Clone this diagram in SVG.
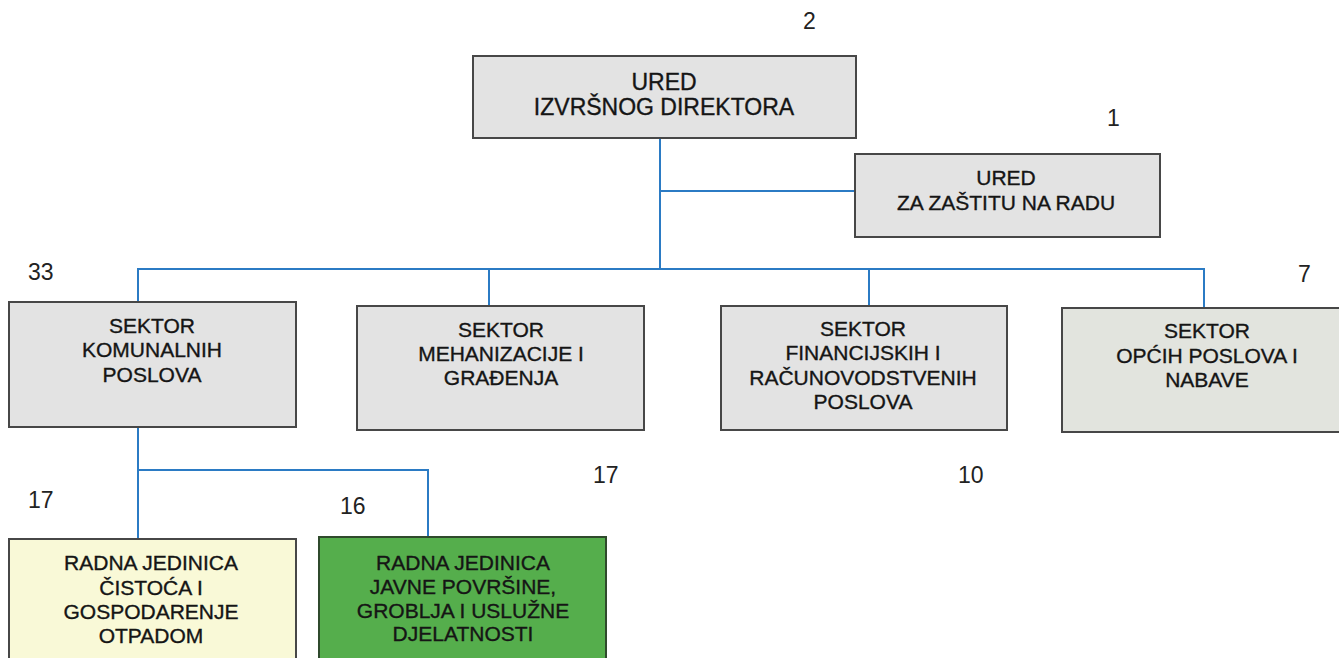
<svg xmlns="http://www.w3.org/2000/svg" width="1339" height="658" viewBox="0 0 1339 658">
<style>
.box{fill:#e3e3e3;stroke:#474747;stroke-width:2}
.t{font-family:"Liberation Sans",Arial,sans-serif;font-size:21px;fill:#151515;stroke:#151515;stroke-width:0.35;text-anchor:middle}
.n{font-family:"Liberation Sans",Arial,sans-serif;font-size:23px;fill:#222}
.c{fill:none;stroke:#2b7bc4;stroke-width:2}
</style>
<rect width="1339" height="658" fill="#ffffff"/>
<g id="connectors">
<path class="c" d="M660 138 V269"/>
<path class="c" d="M660 191 H855"/>
<path class="c" d="M138 302 V269 H1204 V308"/>
<path class="c" d="M489 269 V306"/>
<path class="c" d="M869 269 V306"/>
<path class="c" d="M138 427 V539"/>
<path class="c" d="M138 470 H428 V537"/>
</g>
<g id="ured-direktora">
<rect class="box" x="473" y="56" width="383" height="82"/>
<text class="t" x="664" y="90" style="font-size:23px">URED</text>
<text class="t" x="664" y="115" style="font-size:23px">IZVRŠNOG DIREKTORA</text>
<text class="n" x="803" y="29">2</text>
</g>
<g id="ured-zastita">
<rect class="box" x="855" y="154" width="305" height="83"/>
<text class="t" x="1006" y="185">URED</text>
<text class="t" x="1006" y="210">ZA ZAŠTITU NA RADU</text>
<text class="n" x="1107" y="126">1</text>
</g>
<g id="sektor-komunalnih">
<rect class="box" x="9" y="302" width="287" height="125"/>
<text class="t" x="152" y="333">SEKTOR</text>
<text class="t" x="152" y="357">KOMUNALNIH</text>
<text class="t" x="152" y="382">POSLOVA</text>
<text class="n" x="28" y="280">33</text>
</g>
<g id="sektor-mehanizacije">
<rect class="box" x="357" y="306" width="287" height="124"/>
<text class="t" x="501" y="337">SEKTOR</text>
<text class="t" x="501" y="361">MEHANIZACIJE I</text>
<text class="t" x="501" y="385">GRAĐENJA</text>
<text class="n" x="593" y="483">17</text>
</g>
<g id="sektor-financijskih">
<rect class="box" x="721" y="306" width="286" height="124"/>
<text class="t" x="863" y="336">SEKTOR</text>
<text class="t" x="863" y="360">FINANCIJSKIH I</text>
<text class="t" x="863" y="385">RAČUNOVODSTVENIH</text>
<text class="t" x="863" y="409">POSLOVA</text>
<text class="n" x="958" y="483">10</text>
</g>
<g id="sektor-opcih">
<rect class="box" x="1062" y="308" width="290" height="124" style="fill:#e2e4de"/>
<text class="t" x="1207" y="338">SEKTOR</text>
<text class="t" x="1207" y="363">OPĆIH POSLOVA I</text>
<text class="t" x="1207" y="387">NABAVE</text>
<text class="n" x="1298" y="282">7</text>
</g>
<g id="rj-cistoca">
<rect x="9" y="539" width="287" height="130" style="fill:#f9f9d7;stroke:#474747;stroke-width:2"/>
<text class="t" x="151" y="570">RADNA JEDINICA</text>
<text class="t" x="151" y="595">ČISTOĆA I</text>
<text class="t" x="151" y="619">GOSPODARENJE</text>
<text class="t" x="151" y="643">OTPADOM</text>
<text class="n" x="28" y="508">17</text>
</g>
<g id="rj-javne-povrsine">
<rect x="319" y="537" width="287" height="132" style="fill:#55ae4c;stroke:#2f4a2c;stroke-width:2"/>
<text class="t" x="463" y="570">RADNA JEDINICA</text>
<text class="t" x="463" y="594">JAVNE POVRŠINE,</text>
<text class="t" x="463" y="618">GROBLJA I USLUŽNE</text>
<text class="t" x="463" y="641">DJELATNOSTI</text>
<text class="n" x="340" y="514">16</text>
</g>
</svg>
